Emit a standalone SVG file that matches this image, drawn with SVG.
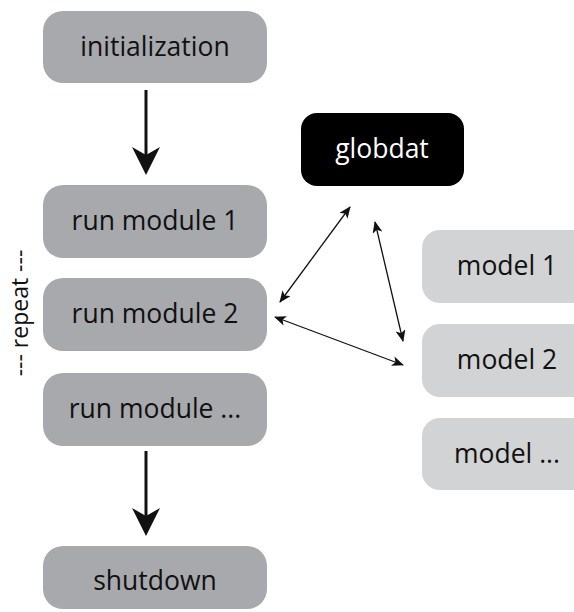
<svg xmlns="http://www.w3.org/2000/svg" width="574" height="612" viewBox="0 0 574 612">
  <style>
    .step { fill: #a7a9ac; }
    .model { fill: #d1d3d4; }
    .store { fill: #000000; }
    text { font-family: "Open Sans", "Noto Sans", "Liberation Sans", sans-serif; font-size: 26.5px; text-anchor: middle; dominant-baseline: central; fill: #111; }
    .light { fill: #ffffff; }
    .side { font-size: 23px; }
    .flow { stroke: #111; stroke-width: 3; fill: none; }
    .link { stroke: #111; stroke-width: 1.3; fill: none; marker-start: url(#tip); marker-end: url(#tip); }
  </style>
  <defs>
    <marker id="tip" viewBox="0 0 12 10" refX="11" refY="5" markerWidth="12" markerHeight="10" markerUnits="userSpaceOnUse" orient="auto-start-reverse">
      <path d="M0,0 L12,5 L0,10 L3,5 Z" fill="#111"/>
    </marker>
  </defs>

  <g id="initialization">
    <rect class="step" x="43" y="11" width="224" height="72" rx="20"/>
    <text x="155" y="46">initialization</text>
  </g>
  <g id="run-module-1">
    <rect class="step" x="43" y="185" width="224" height="73" rx="20"/>
    <text x="155" y="220">run module 1</text>
  </g>
  <g id="run-module-2">
    <rect class="step" x="43" y="278" width="224" height="73" rx="20"/>
    <text x="155" y="313">run module 2</text>
  </g>
  <g id="run-module-n">
    <rect class="step" x="43" y="373" width="224" height="73" rx="20"/>
    <text x="155" y="408">run module ...</text>
  </g>
  <g id="shutdown">
    <rect class="step" x="43" y="546" width="224" height="63" rx="20"/>
    <text x="155" y="580">shutdown</text>
  </g>
  <g id="globdat">
    <rect class="store" x="301" y="113" width="163" height="73" rx="16"/>
    <text class="light" x="382" y="148">globdat</text>
  </g>
  <g id="model-1">
    <rect class="model" x="422" y="230" width="180" height="73" rx="18"/>
    <text x="507" y="265">model 1</text>
  </g>
  <g id="model-2">
    <rect class="model" x="422" y="324" width="180" height="73" rx="18"/>
    <text x="507" y="359">model 2</text>
  </g>
  <g id="model-n">
    <rect class="model" x="422" y="418" width="180" height="72" rx="18"/>
    <text x="507" y="453">model ...</text>
  </g>

  <text id="repeat" class="side" x="19" y="313" transform="rotate(-90 19 313)">--- repeat ---</text>

  <g id="connectors">
    <line class="flow" x1="146" y1="90" x2="146" y2="160"/>
    <path d="M132,147 L146,175 L160,147 L146,155 Z" fill="#111"/>
    <line class="flow" x1="146" y1="451" x2="146" y2="522"/>
    <path d="M132,508 L146,536 L160,508 L146,516 Z" fill="#111"/>
    <line class="link" x1="350" y1="207" x2="280" y2="302"/>
    <line class="link" x1="375" y1="222" x2="403" y2="341"/>
    <line class="link" x1="275" y1="317" x2="403" y2="365"/>
  </g>
</svg>
